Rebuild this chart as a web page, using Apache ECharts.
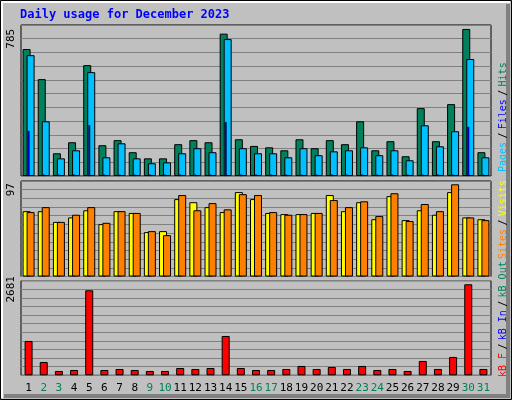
<!DOCTYPE html>
<html><head><meta charset="utf-8">
<script src="https://cdn.jsdelivr.net/npm/echarts@6/dist/echarts.min.js"></script>
<style>html,body{margin:0;padding:0;background:#C0C0C0}#c{width:512px;height:400px}</style>
</head><body><div id="c"></div>
<script>
const days = ['1','2','3','4','5','6','7','8','9','10','11','12','13','14','15','16','17','18','19','20','21','22','23','24','25','26','27','28','29','30','31'];
const weekend = ['2','3','9','10','16','17','23','24','30','31'];
const hits  = [726,554,130,193,634,176,205,136,101,101,182,205,193,814,210,172,164,147,210,159,205,182,313,147,199,113,388,199,411,841,136];
const files = [691,313,101,147,594,107,187,101,73,78,130,159,136,783,159,130,130,107,159,119,141,147,164,119,147,90,290,170,256,669,107];
const pages = [258,8,8,8,290,8,8,8,8,8,8,8,8,308,8,8,8,8,8,8,8,8,8,8,8,8,8,8,8,281,8];
const visits = [73,73,61,66,74,58.5,73,71,49.6,50.7,86.5,83,77.5,72,94.3,86.5,71,69.7,69.7,71,91,73,83,64,89.8,63,74,69,94.3,66,64];
const sites  = [72,77.5,61,69,77.5,60,73,71,50.7,46.2,91,74,82,75,92,91,72,69,69.7,71,85.4,77.5,84,67.5,93,62,81,73,103,66,63];
const kbytes = [1070,416,135,166,2650,166,197,166,135,135,228,197,228,1226,228,166,166,197,291,197,260,197,291,166,197,135,447,197,572,2837,197];
const topTicks = {hits:785, visits:97, kbytes:2681};

const chart = echarts.init(document.getElementById('c'), null, {renderer:'canvas'});
const mono = 'DejaVu Sans Mono';
const grids = [
  {left:21, width:470, top:25, height:151},
  {left:21, width:470, top:181, height:95.5},
  {left:21, width:470, top:280.7, height:94.6}
];
function yAx(gi, topVal){
  return {type:'value', gridIndex:gi, min:0, max:topVal*1.1, interval:topVal/10,
    axisLine:{show:false}, axisTick:{show:false},
    splitLine:{show:true, lineStyle:{color:'#808080', width:1}},
    axisLabel:{show:true, rotate:90, margin:4, fontFamily:mono, fontSize:11, color:'#000',
      formatter:v => Math.abs(v-topVal)<1e-6 ? String(topVal) : ''}};
}
function xAx(gi, showLabels){
  return {type:'category', gridIndex:gi, data:days, boundaryGap:true,
    axisLine:{show:false}, axisTick:{show:false}, splitLine:{show:false},
    axisLabel:{show:showLabels, interval:0, margin:7, fontFamily:mono, fontSize:11,
      color:(v)=> weekend.includes(v) ? '#00805C' : '#000'}};
}
const bs = {borderColor:'#000', borderWidth:1};
const option = {
  backgroundColor:'#C0C0C0',
  animation:false,
  grid: grids.map(g=>Object.assign({show:true, borderColor:'#000', borderWidth:1, backgroundColor:'transparent'}, g)),
  xAxis:[xAx(0,false), xAx(0,false), xAx(1,false), xAx(2,true)],
  yAxis:[yAx(0,topTicks.hits), yAx(1,topTicks.visits), yAx(2,topTicks.kbytes)],
  series:[
    {type:'bar', name:'Hits', xAxisIndex:0, yAxisIndex:0, data:hits, barWidth:8, barGap:'-50%', itemStyle:Object.assign({color:'#00805C'},bs)},
    {type:'bar', name:'Files', xAxisIndex:0, yAxisIndex:0, data:files, barWidth:8, barGap:'-50%', itemStyle:Object.assign({color:'#00C0FF'},bs)},
    {type:'bar', name:'Pages', xAxisIndex:1, yAxisIndex:0, data:pages, barWidth:2, z:5, itemStyle:{color:'#0000FF', borderColor:'#000', borderWidth:0.5}},
    {type:'bar', name:'Visits', xAxisIndex:2, yAxisIndex:1, data:visits, barWidth:8, barGap:'-50%', itemStyle:Object.assign({color:'#FFFF00'},bs)},
    {type:'bar', name:'Sites', xAxisIndex:2, yAxisIndex:1, data:sites, barWidth:8, barGap:'-50%', itemStyle:Object.assign({color:'#FF8000'},bs)},
    {type:'bar', name:'kB F', xAxisIndex:3, yAxisIndex:2, data:kbytes, barWidth:8, itemStyle:Object.assign({color:'#FF0000'},bs)}
  ],
  graphic:[
    {type:'rect', shape:{x:0.5,y:0.5,width:511,height:399}, style:{fill:'none', stroke:'#000', lineWidth:1}, z:-1},
    {type:'polyline', shape:{points:[[2,398],[2,2],[510,2]]}, style:{stroke:'#fff', lineWidth:2, fill:'none'}},
    {type:'polyline', shape:{points:[[508,4],[508,396],[4,396]]}, style:{stroke:'#808080', lineWidth:4, fill:'none'}},
    {type:'text', x:20, y:15, style:{text:'Daily usage for December 2023', fill:'#0000FF', font:'bold 12px "DejaVu Sans Mono"', verticalAlign:'middle'}},
    {type:'text', x:497, y:172, rotation:Math.PI/2, style:{
      text:'{p|Pages} {s|/} {f|Files} {s|/} {h|Hits}', verticalAlign:'top', align:'left',
      rich:{p:{fill:'#00C0FF',font:'10px "DejaVu Sans Mono"'}, s:{fill:'#000',font:'10px "DejaVu Sans Mono"'},
            f:{fill:'#0000FF',font:'10px "DejaVu Sans Mono"'}, h:{fill:'#00805C',font:'10px "DejaVu Sans Mono"'}}}},
    {type:'text', x:497, y:259, rotation:Math.PI/2, style:{
      text:'{a|Sites} {s|/} {b|Visits}', verticalAlign:'top', align:'left',
      rich:{a:{fill:'#FF8000',font:'10px "DejaVu Sans Mono"'}, s:{fill:'#000',font:'10px "DejaVu Sans Mono"'},
            b:{fill:'#FFFF00',font:'10px "DejaVu Sans Mono"'}}}},
    {type:'text', x:497, y:377, rotation:Math.PI/2, style:{
      text:'{r|kB F} {s|/} {b|kB In} {s|/} {g|kB Out}', verticalAlign:'top', align:'left',
      rich:{r:{fill:'#FF0000',font:'10px "DejaVu Sans Mono"'}, s:{fill:'#000',font:'10px "DejaVu Sans Mono"'},
            b:{fill:'#0000FF',font:'10px "DejaVu Sans Mono"'}, g:{fill:'#00805C',font:'10px "DejaVu Sans Mono"'}}}}
  ]
};
chart.setOption(option);
</script></body></html>
